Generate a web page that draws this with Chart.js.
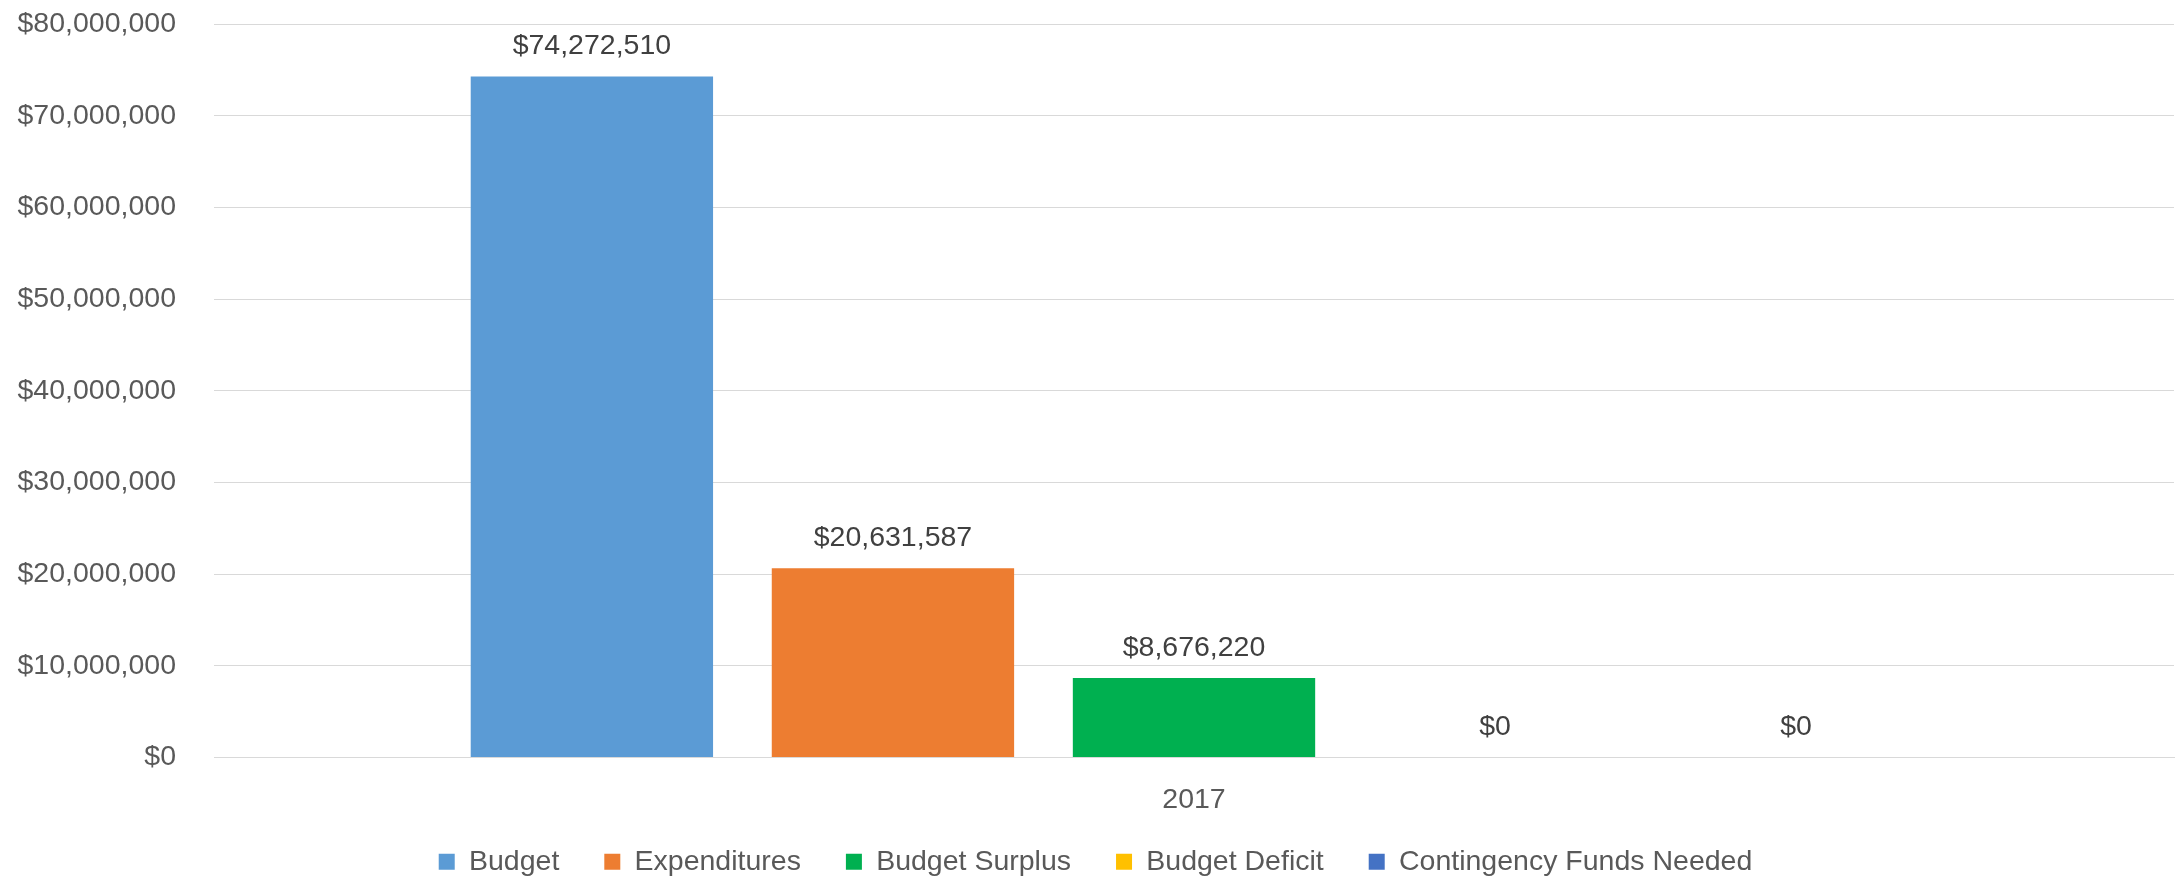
<!DOCTYPE html>
<html>
<head>
<meta charset="utf-8">
<script src="https://cdn.jsdelivr.net/npm/chart.js@4"></script>
<style>
    html, body { margin: 0; padding: 0; background: #fff; }
    #wrap { width: 2178px; height: 878px; }
</style>
</head>
<body>
<div id="wrap"><canvas id="budgetChart" width="2178" height="878"></canvas></div>
<script>
// chart data
const categories = ['2017'];
const seriesNames = ['Budget', 'Expenditures', 'Budget Surplus', 'Budget Deficit', 'Contingency Funds Needed'];
const seriesValues = [74272510, 20631587, 8676220, 0, 0];
const seriesColors = ['#5B9BD5', '#ED7D31', '#00B050', '#FFC000', '#4472C4'];
const yTicks = [0, 10000000, 20000000, 30000000, 40000000, 50000000, 60000000, 70000000, 80000000];

const FONT = '"Liberation Sans", Arial, sans-serif';
const FONT_SIZE = 28.5;

function money(v) {
    return '$' + Number(v).toLocaleString('en-US');
}

// draws the value labels above each bar and the category label under the axis
const valueLabels = {
    id: 'valueLabels',
    afterDatasetsDraw: function (chart) {
        const ctx = chart.ctx;
        ctx.save();
        ctx.font = FONT_SIZE + 'px ' + FONT;
        ctx.textAlign = 'center';
        ctx.textBaseline = 'middle';
        ctx.fillStyle = '#404040';
        chart.data.datasets.forEach((ds, i) => {
            chart.getDatasetMeta(i).data.forEach((bar, j) => {
                ctx.fillText(money(ds.data[j]), bar.x, bar.y - 30);
            });
        });
        const xScale = chart.scales.x;
        ctx.fillStyle = '#595959';
        chart.data.labels.forEach((label, i) => {
            ctx.fillText(label, xScale.getPixelForTick(i), xScale.top + 43);
        });
        ctx.restore();
    }
};

const ctx = document.getElementById('budgetChart').getContext('2d');

new Chart(ctx, {
    type: 'bar',
    data: {
        labels: categories,
        datasets: seriesNames.map((name, i) => ({
            label: name,
            data: [seriesValues[i]],
            backgroundColor: seriesColors[i],
            borderWidth: 0
        }))
    },
    options: {
        responsive: false,
        animation: false,
        devicePixelRatio: 1,
        categoryPercentage: 0.768,
        barPercentage: 0.805,
        layout: {
            padding: { left: 17, right: 4, top: 24, bottom: -8 }
        },
        scales: {
            x: {
                grid: { display: false, drawTicks: false },
                border: { display: true, color: '#d9d9d9', width: 1 },
                ticks: { display: false },
                afterFit: function (axis) {
                    axis.paddingLeft = 0;
                    axis.paddingRight = 0;
                    axis.height = 45;
                }
            },
            y: {
                min: 0,
                max: 80000000,
                afterBuildTicks: function (axis) {
                    axis.ticks = yTicks.map(v => ({ value: v }));
                },
                afterFit: function (axis) {
                    axis.paddingTop = 0;
                    axis.paddingBottom = 0;
                    axis.width = 197;
                },
                grid: { color: '#d9d9d9', lineWidth: 1, drawTicks: false },
                border: { display: false },
                ticks: {
                    color: '#595959',
                    font: { family: FONT, size: FONT_SIZE },
                    padding: 38,
                    callback: function (value) {
                        return money(value);
                    }
                }
            }
        },
        plugins: {
            legend: {
                position: 'bottom',
                labels: {
                    boxWidth: 16,
                    boxHeight: 16,
                    padding: 45,
                    color: '#595959',
                    font: { family: FONT, size: FONT_SIZE }
                }
            },
            tooltip: { enabled: false }
        }
    },
    plugins: [valueLabels]
});
</script>
</body>
</html>
